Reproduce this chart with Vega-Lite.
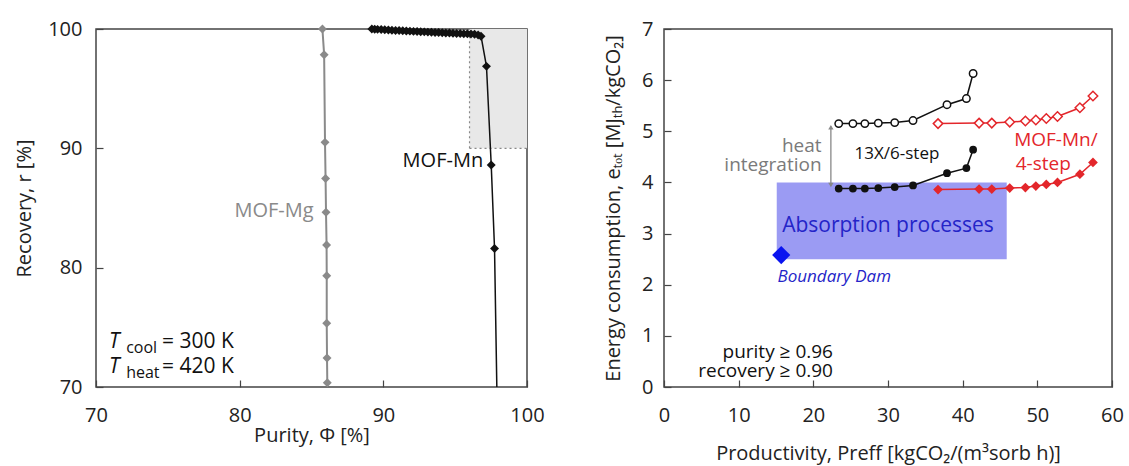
{
  "$schema": "https://vega.github.io/schema/vega-lite/v6.json",
  "background": "white",
  "padding": {"left": 13, "top": 18, "right": 5, "bottom": 5},
  "spacing": 57,
  "config": {
    "font": "Open Sans",
    "view": {"stroke": "#444", "strokeWidth": 1.5},
    "axis": {
      "labelFont": "Open Sans", "labelFontSize": 20, "labelColor": "#222",
      "titleFont": "Open Sans", "titleFontSize": 20, "titleFontWeight": "normal", "titleColor": "#222",
      "grid": false
    },
    "text": {"font": "Open Sans"}
  },
  "hconcat": [
    {
      "width": 431, "height": 358,
      "resolve": {"axis": {"x": "independent", "y": "independent"}},
      "layer": [
        {
          "data": {"values": [{"p": 96, "p2": 100, "r": 90, "r2": 100}]},
          "mark": {"type": "rect", "fill": "#e8e8e8"},
          "encoding": {
            "x": {"field": "p", "type": "quantitative", "scale": {"domain": [70, 100], "nice": false, "zero": false},
                  "axis": {"orient": "bottom", "values": [70, 80, 90, 100], "title": "Purity, Φ [%]", "domain": false, "ticks": true, "tickSize": 7, "offset": -7, "tickColor": "#444", "tickWidth": 1.2, "tickOpacity": 1, "labelFlush": false, "labelPadding": 18, "titlePadding": 0, "zindex": 1}},
            "x2": {"field": "p2"},
            "y": {"field": "r", "type": "quantitative", "scale": {"domain": [70, 100], "nice": false, "zero": false},
                  "axis": {"orient": "left", "values": [70, 80, 90, 100], "title": "Recovery, r [%]", "domain": false, "ticks": true, "tickSize": 7, "offset": -7, "tickColor": "#444", "tickWidth": 1.2, "tickOpacity": 1, "labelFlush": false, "labelPadding": 14, "titlePadding": 13, "zindex": 1}},
            "y2": {"field": "r2"}
          }
        },
        {
          "data": {"values": [{"p": 96, "p2": 96, "r": 90, "r2": 100}, {"p": 96, "p2": 100, "r": 90, "r2": 90}]},
          "mark": {"type": "rule", "color": "#888", "strokeWidth": 1.2, "strokeDash": [2, 3]},
          "encoding": {
            "x": {"field": "p", "type": "quantitative", "scale": {"domain": [70, 100], "nice": false, "zero": false}, "axis": null},
            "x2": {"field": "p2"},
            "y": {"field": "r", "type": "quantitative", "scale": {"domain": [70, 100], "nice": false, "zero": false}, "axis": null},
            "y2": {"field": "r2"}
          }
        },
        {
          "data": {"name": "mg", "values": [
            {"p": 85.76, "r": 100.0}, {"p": 85.88, "r": 97.85}, {"p": 85.94, "r": 90.5}, {"p": 85.98, "r": 87.48},
            {"p": 86.01, "r": 84.65}, {"p": 86.05, "r": 81.9}, {"p": 86.06, "r": 79.32}, {"p": 86.06, "r": 75.35},
            {"p": 86.08, "r": 72.43}, {"p": 86.1, "r": 70.35}
          ]},
          "layer": [
            {
              "mark": {"type": "line", "color": "#8a8a8a", "strokeWidth": 2},
              "encoding": {
                "x": {"field": "p", "type": "quantitative", "scale": {"domain": [70, 100], "nice": false, "zero": false}, "axis": null},
                "y": {"field": "r", "type": "quantitative", "scale": {"domain": [70, 100], "nice": false, "zero": false}, "axis": null},
                "order": {"field": "r", "sort": "descending"}
              }
            },
            {
              "mark": {"type": "point", "shape": "diamond", "filled": true, "color": "#8a8a8a", "size": 80, "opacity": 1},
              "encoding": {
                "x": {"field": "p", "type": "quantitative", "scale": {"domain": [70, 100], "nice": false, "zero": false}, "axis": null},
                "y": {"field": "r", "type": "quantitative", "scale": {"domain": [70, 100], "nice": false, "zero": false}, "axis": null}
              }
            }
          ]
        },
        {
          "data": {"name": "mn", "values": [
            {"p": 89.2, "r": 100.0, "m": 1}, {"p": 89.4, "r": 99.98, "m": 1}, {"p": 89.6, "r": 99.97, "m": 1}, {"p": 89.85, "r": 99.95, "m": 1},
            {"p": 90.1, "r": 99.93, "m": 1}, {"p": 90.35, "r": 99.92, "m": 1}, {"p": 90.6, "r": 99.9, "m": 1}, {"p": 90.85, "r": 99.88, "m": 1},
            {"p": 91.1, "r": 99.87, "m": 1}, {"p": 91.35, "r": 99.85, "m": 1}, {"p": 91.6, "r": 99.83, "m": 1}, {"p": 91.85, "r": 99.82, "m": 1},
            {"p": 92.1, "r": 99.8, "m": 1}, {"p": 92.35, "r": 99.79, "m": 1}, {"p": 92.6, "r": 99.77, "m": 1}, {"p": 92.85, "r": 99.76, "m": 1},
            {"p": 93.1, "r": 99.74, "m": 1}, {"p": 93.35, "r": 99.73, "m": 1}, {"p": 93.6, "r": 99.71, "m": 1}, {"p": 93.85, "r": 99.7, "m": 1},
            {"p": 94.1, "r": 99.68, "m": 1}, {"p": 94.35, "r": 99.67, "m": 1}, {"p": 94.6, "r": 99.66, "m": 1}, {"p": 94.85, "r": 99.65, "m": 1},
            {"p": 95.1, "r": 99.63, "m": 1}, {"p": 95.35, "r": 99.62, "m": 1}, {"p": 95.6, "r": 99.61, "m": 1}, {"p": 95.85, "r": 99.6, "m": 1},
            {"p": 96.1, "r": 99.58, "m": 1}, {"p": 96.35, "r": 99.56, "m": 1}, {"p": 96.6, "r": 99.5, "m": 1}, {"p": 96.8, "r": 99.4, "m": 1},
            {"p": 97.18, "r": 96.87, "m": 1}, {"p": 97.51, "r": 88.6, "m": 1}, {"p": 97.74, "r": 81.6, "m": 1}, {"p": 97.9, "r": 70.0, "m": 0}
          ]},
          "layer": [
            {
              "mark": {"type": "line", "color": "#111", "strokeWidth": 1.5},
              "encoding": {
                "x": {"field": "p", "type": "quantitative", "scale": {"domain": [70, 100], "nice": false, "zero": false},
                      "axis": {"orient": "top", "values": [70, 80, 90, 100], "labels": false, "title": null, "domain": false, "ticks": true, "tickSize": 7, "offset": -7, "tickColor": "#444", "tickWidth": 1.2, "tickOpacity": 1, "zindex": 1}},
                "y": {"field": "r", "type": "quantitative", "scale": {"domain": [70, 100], "nice": false, "zero": false},
                      "axis": {"orient": "right", "values": [70, 80, 90, 100], "labels": false, "title": null, "domain": false, "ticks": true, "tickSize": 7, "offset": -7, "tickColor": "#444", "tickWidth": 1.2, "tickOpacity": 1, "zindex": 1}}
              }
            },
            {
              "transform": [{"filter": "datum.m == 1"}],
              "mark": {"type": "point", "shape": "diamond", "filled": true, "color": "#111", "size": 80, "opacity": 1},
              "encoding": {
                "x": {"field": "p", "type": "quantitative", "scale": {"domain": [70, 100], "nice": false, "zero": false}, "axis": null},
                "y": {"field": "r", "type": "quantitative", "scale": {"domain": [70, 100], "nice": false, "zero": false}, "axis": null}
              }
            }
          ]
        },
        {
          "data": {"values": [{"t": "MOF-Mn", "p": 96.95, "r": 88.95}]},
          "mark": {"type": "text", "align": "right", "baseline": "middle", "fontSize": 20, "color": "#111"},
          "encoding": {
            "x": {"field": "p", "type": "quantitative", "scale": {"domain": [70, 100], "nice": false, "zero": false}, "axis": null},
            "y": {"field": "r", "type": "quantitative", "scale": {"domain": [70, 100], "nice": false, "zero": false}, "axis": null},
            "text": {"field": "t"}
          }
        },
        {
          "data": {"values": [{"t": "MOF-Mg", "p": 85.15, "r": 84.76}]},
          "mark": {"type": "text", "align": "right", "baseline": "middle", "fontSize": 20, "color": "#8a8a8a"},
          "encoding": {
            "x": {"field": "p", "type": "quantitative", "scale": {"domain": [70, 100], "nice": false, "zero": false}, "axis": null},
            "y": {"field": "r", "type": "quantitative", "scale": {"domain": [70, 100], "nice": false, "zero": false}, "axis": null},
            "text": {"field": "t"}
          }
        },
        {
          "data": {"values": [{"t": "T", "p": 70.9, "r": 73.77}, {"t": "T", "p": 70.9, "r": 71.67}]},
          "mark": {"type": "text", "align": "left", "baseline": "middle", "fontSize": 21, "fontStyle": "italic", "color": "#111"},
          "encoding": {
            "x": {"field": "p", "type": "quantitative", "scale": {"domain": [70, 100], "nice": false, "zero": false}, "axis": null},
            "y": {"field": "r", "type": "quantitative", "scale": {"domain": [70, 100], "nice": false, "zero": false}, "axis": null},
            "text": {"field": "t"}
          }
        },
        {
          "data": {"values": [{"t": "cool", "p": 72.1, "r": 73.77}, {"t": "heat", "p": 72.1, "r": 71.67}]},
          "mark": {"type": "text", "align": "left", "baseline": "middle", "fontSize": 16, "dy": 6, "color": "#111"},
          "encoding": {
            "x": {"field": "p", "type": "quantitative", "scale": {"domain": [70, 100], "nice": false, "zero": false}, "axis": null},
            "y": {"field": "r", "type": "quantitative", "scale": {"domain": [70, 100], "nice": false, "zero": false}, "axis": null},
            "text": {"field": "t"}
          }
        },
        {
          "data": {"values": [{"t": "= 300 K", "p": 74.6, "r": 73.77}, {"t": "= 420 K", "p": 74.6, "r": 71.67}]},
          "mark": {"type": "text", "align": "left", "baseline": "middle", "fontSize": 21, "color": "#111"},
          "encoding": {
            "x": {"field": "p", "type": "quantitative", "scale": {"domain": [70, 100], "nice": false, "zero": false}, "axis": null},
            "y": {"field": "r", "type": "quantitative", "scale": {"domain": [70, 100], "nice": false, "zero": false}, "axis": null},
            "text": {"field": "t"}
          }
        }
      ]
    },
    {
      "width": 448, "height": 358,
      "resolve": {"axis": {"x": "independent", "y": "independent"}},
      "layer": [
        {
          "data": {"values": [{"x": 15.1, "x2": 45.9, "y": 2.5, "y2": 4.0}]},
          "mark": {"type": "rect", "fill": "#9b9bf3"},
          "encoding": {
            "x": {"field": "x", "type": "quantitative", "scale": {"domain": [0, 60], "nice": false},
                  "axis": {"orient": "bottom", "values": [0, 10, 20, 30, 40, 50, 60], "title": "Productivity, Preff [kgCO₂/(m³sorb h)]", "domain": false, "ticks": true, "tickSize": 7, "offset": -7, "tickColor": "#444", "tickWidth": 1.2, "tickOpacity": 1, "labelFlush": false, "labelPadding": 18, "titlePadding": 18, "zindex": 1}},
            "x2": {"field": "x2"},
            "y": {"field": "y", "type": "quantitative", "scale": {"domain": [0, 7], "nice": false},
                  "axis": {"orient": "left", "values": [0, 1, 2, 3, 4, 5, 6, 7], "title": "Energy consumption, eₜₒₜ [MJₜₕ/kgCO₂]", "domain": false, "ticks": true, "tickSize": 7, "offset": -7, "tickColor": "#444", "tickWidth": 1.2, "tickOpacity": 1, "labelFlush": false, "labelPadding": 11, "titlePadding": 18, "zindex": 1}},
            "y2": {"field": "y2"}
          }
        },
        {
          "data": {"values": [{"x": 22.35, "y": 3.93, "y2": 5.1}]},
          "mark": {"type": "rule", "color": "#888", "strokeWidth": 1.3},
          "encoding": {
            "x": {"field": "x", "type": "quantitative", "scale": {"domain": [0, 60], "nice": false}, "axis": null},
            "y": {"field": "y", "type": "quantitative", "scale": {"domain": [0, 7], "nice": false}, "axis": null},
            "y2": {"field": "y2"}
          }
        },
        {
          "data": {"values": [{"x": 22.35, "y": 5.08, "s": "up"}, {"x": 22.35, "y": 3.95, "s": "down"}]},
          "mark": {"type": "point", "filled": true, "color": "#888", "size": 28, "opacity": 1},
          "encoding": {
            "x": {"field": "x", "type": "quantitative", "scale": {"domain": [0, 60], "nice": false}, "axis": null},
            "y": {"field": "y", "type": "quantitative", "scale": {"domain": [0, 7], "nice": false}, "axis": null},
            "shape": {"field": "s", "type": "nominal", "scale": {"domain": ["up", "down"], "range": ["triangle-up", "triangle-down"]}, "legend": null}
          }
        },
        {
          "data": {"name": "series", "values": [
            {"s": "A", "x": 23.4, "y": 5.15}, {"s": "A", "x": 25.3, "y": 5.15}, {"s": "A", "x": 26.9, "y": 5.15}, {"s": "A", "x": 28.7, "y": 5.16},
            {"s": "A", "x": 30.9, "y": 5.17}, {"s": "A", "x": 33.35, "y": 5.21}, {"s": "A", "x": 37.9, "y": 5.52}, {"s": "A", "x": 40.5, "y": 5.64},
            {"s": "A", "x": 41.4, "y": 6.13},
            {"s": "B", "x": 23.4, "y": 3.88}, {"s": "B", "x": 25.3, "y": 3.88}, {"s": "B", "x": 26.9, "y": 3.88}, {"s": "B", "x": 28.7, "y": 3.89},
            {"s": "B", "x": 30.9, "y": 3.91}, {"s": "B", "x": 33.35, "y": 3.94}, {"s": "B", "x": 37.9, "y": 4.18}, {"s": "B", "x": 40.5, "y": 4.28},
            {"s": "B", "x": 41.4, "y": 4.64},
            {"s": "C", "x": 36.7, "y": 5.15}, {"s": "C", "x": 42.2, "y": 5.16}, {"s": "C", "x": 43.9, "y": 5.16}, {"s": "C", "x": 46.3, "y": 5.18},
            {"s": "C", "x": 48.4, "y": 5.2}, {"s": "C", "x": 49.8, "y": 5.22}, {"s": "C", "x": 51.2, "y": 5.25}, {"s": "C", "x": 52.7, "y": 5.29},
            {"s": "C", "x": 55.7, "y": 5.46}, {"s": "C", "x": 57.45, "y": 5.69},
            {"s": "D", "x": 36.7, "y": 3.86}, {"s": "D", "x": 42.2, "y": 3.87}, {"s": "D", "x": 43.9, "y": 3.87}, {"s": "D", "x": 46.3, "y": 3.89},
            {"s": "D", "x": 48.4, "y": 3.9}, {"s": "D", "x": 49.8, "y": 3.93}, {"s": "D", "x": 51.2, "y": 3.96}, {"s": "D", "x": 52.7, "y": 4.0},
            {"s": "D", "x": 55.7, "y": 4.16}, {"s": "D", "x": 57.45, "y": 4.39}
          ]},
          "layer": [
            {
              "mark": {"type": "line", "strokeWidth": 1.5},
              "encoding": {
                "x": {"field": "x", "type": "quantitative", "scale": {"domain": [0, 60], "nice": false},
                      "axis": {"orient": "top", "values": [0, 10, 20, 30, 40, 50, 60], "labels": false, "title": null, "domain": false, "ticks": true, "tickSize": 7, "offset": -7, "tickColor": "#444", "tickWidth": 1.2, "tickOpacity": 1, "zindex": 1}},
                "y": {"field": "y", "type": "quantitative", "scale": {"domain": [0, 7], "nice": false},
                      "axis": {"orient": "right", "values": [0, 1, 2, 3, 4, 5, 6, 7], "labels": false, "title": null, "domain": false, "ticks": true, "tickSize": 7, "offset": -7, "tickColor": "#444", "tickWidth": 1.2, "tickOpacity": 1, "zindex": 1}},
                "detail": {"field": "s"},
                "color": {"field": "s", "type": "nominal", "scale": {"domain": ["A", "B", "C", "D"], "range": ["#111", "#111", "#e3262b", "#e3262b"]}, "legend": null}
              }
            },
            {
              "transform": [{"filter": "datum.s == 'A'"}],
              "mark": {"type": "point", "shape": "circle", "fill": "white", "stroke": "#111", "strokeWidth": 1.5, "size": 55, "opacity": 1, "fillOpacity": 1},
              "encoding": {
                "x": {"field": "x", "type": "quantitative", "scale": {"domain": [0, 60], "nice": false}, "axis": null},
                "y": {"field": "y", "type": "quantitative", "scale": {"domain": [0, 7], "nice": false}, "axis": null}
              }
            },
            {
              "transform": [{"filter": "datum.s == 'B'"}],
              "mark": {"type": "point", "shape": "circle", "filled": true, "color": "#111", "size": 60, "opacity": 1},
              "encoding": {
                "x": {"field": "x", "type": "quantitative", "scale": {"domain": [0, 60], "nice": false}, "axis": null},
                "y": {"field": "y", "type": "quantitative", "scale": {"domain": [0, 7], "nice": false}, "axis": null}
              }
            },
            {
              "transform": [{"filter": "datum.s == 'C'"}],
              "mark": {"type": "point", "shape": "diamond", "fill": "white", "stroke": "#e3262b", "strokeWidth": 1.5, "size": 90, "opacity": 1, "fillOpacity": 1},
              "encoding": {
                "x": {"field": "x", "type": "quantitative", "scale": {"domain": [0, 60], "nice": false}, "axis": null},
                "y": {"field": "y", "type": "quantitative", "scale": {"domain": [0, 7], "nice": false}, "axis": null}
              }
            },
            {
              "transform": [{"filter": "datum.s == 'D'"}],
              "mark": {"type": "point", "shape": "diamond", "filled": true, "color": "#e3262b", "size": 95, "opacity": 1},
              "encoding": {
                "x": {"field": "x", "type": "quantitative", "scale": {"domain": [0, 60], "nice": false}, "axis": null},
                "y": {"field": "y", "type": "quantitative", "scale": {"domain": [0, 7], "nice": false}, "axis": null}
              }
            }
          ]
        },
        {
          "data": {"values": [{"x": 15.7, "y": 2.58}]},
          "mark": {"type": "point", "shape": "diamond", "filled": true, "color": "#0a14f0", "size": 330, "opacity": 1},
          "encoding": {
            "x": {"field": "x", "type": "quantitative", "scale": {"domain": [0, 60], "nice": false}, "axis": null},
            "y": {"field": "y", "type": "quantitative", "scale": {"domain": [0, 7], "nice": false}, "axis": null}
          }
        },
        {
          "data": {"values": [{"t": "heat", "x": 21.1, "y": 4.72}, {"t": "integration", "x": 21.1, "y": 4.34}]},
          "mark": {"type": "text", "align": "right", "baseline": "middle", "fontSize": 19, "color": "#7a7a7a"},
          "encoding": {
            "x": {"field": "x", "type": "quantitative", "scale": {"domain": [0, 60], "nice": false}, "axis": null},
            "y": {"field": "y", "type": "quantitative", "scale": {"domain": [0, 7], "nice": false}, "axis": null},
            "text": {"field": "t"}
          }
        },
        {
          "data": {"values": [{"t": "purity ≥ 0.96", "x": 22.63, "y": 0.68}, {"t": "recovery ≥ 0.90", "x": 22.63, "y": 0.32}]},
          "mark": {"type": "text", "align": "right", "baseline": "middle", "fontSize": 19, "color": "#111"},
          "encoding": {
            "x": {"field": "x", "type": "quantitative", "scale": {"domain": [0, 60], "nice": false}, "axis": null},
            "y": {"field": "y", "type": "quantitative", "scale": {"domain": [0, 7], "nice": false}, "axis": null},
            "text": {"field": "t"}
          }
        },
        {
          "data": {"values": [{"t": "13X/6-step", "x": 31.2, "y": 4.55}]},
          "mark": {"type": "text", "align": "center", "baseline": "middle", "fontSize": 17, "color": "#111"},
          "encoding": {
            "x": {"field": "x", "type": "quantitative", "scale": {"domain": [0, 60], "nice": false}, "axis": null},
            "y": {"field": "y", "type": "quantitative", "scale": {"domain": [0, 7], "nice": false}, "axis": null},
            "text": {"field": "t"}
          }
        },
        {
          "data": {"values": [{"t": "MOF-Mn/", "x": 46.9, "y": 4.83}, {"t": "4-step", "x": 47.1, "y": 4.36}]},
          "mark": {"type": "text", "align": "left", "baseline": "middle", "fontSize": 19, "color": "#e3262b"},
          "encoding": {
            "x": {"field": "x", "type": "quantitative", "scale": {"domain": [0, 60], "nice": false}, "axis": null},
            "y": {"field": "y", "type": "quantitative", "scale": {"domain": [0, 7], "nice": false}, "axis": null},
            "text": {"field": "t"}
          }
        },
        {
          "data": {"values": [{"t": "Absorption processes", "x": 30.0, "y": 3.15}]},
          "mark": {"type": "text", "align": "center", "baseline": "middle", "fontSize": 21, "color": "#2424c8"},
          "encoding": {
            "x": {"field": "x", "type": "quantitative", "scale": {"domain": [0, 60], "nice": false}, "axis": null},
            "y": {"field": "y", "type": "quantitative", "scale": {"domain": [0, 7], "nice": false}, "axis": null},
            "text": {"field": "t"}
          }
        },
        {
          "data": {"values": [{"t": "Boundary Dam", "x": 15.2, "y": 2.15}]},
          "mark": {"type": "text", "align": "left", "baseline": "middle", "fontSize": 17, "fontStyle": "italic", "color": "#2424c8"},
          "encoding": {
            "x": {"field": "x", "type": "quantitative", "scale": {"domain": [0, 60], "nice": false}, "axis": null},
            "y": {"field": "y", "type": "quantitative", "scale": {"domain": [0, 7], "nice": false}, "axis": null},
            "text": {"field": "t"}
          }
        }
      ]
    }
  ]
}
